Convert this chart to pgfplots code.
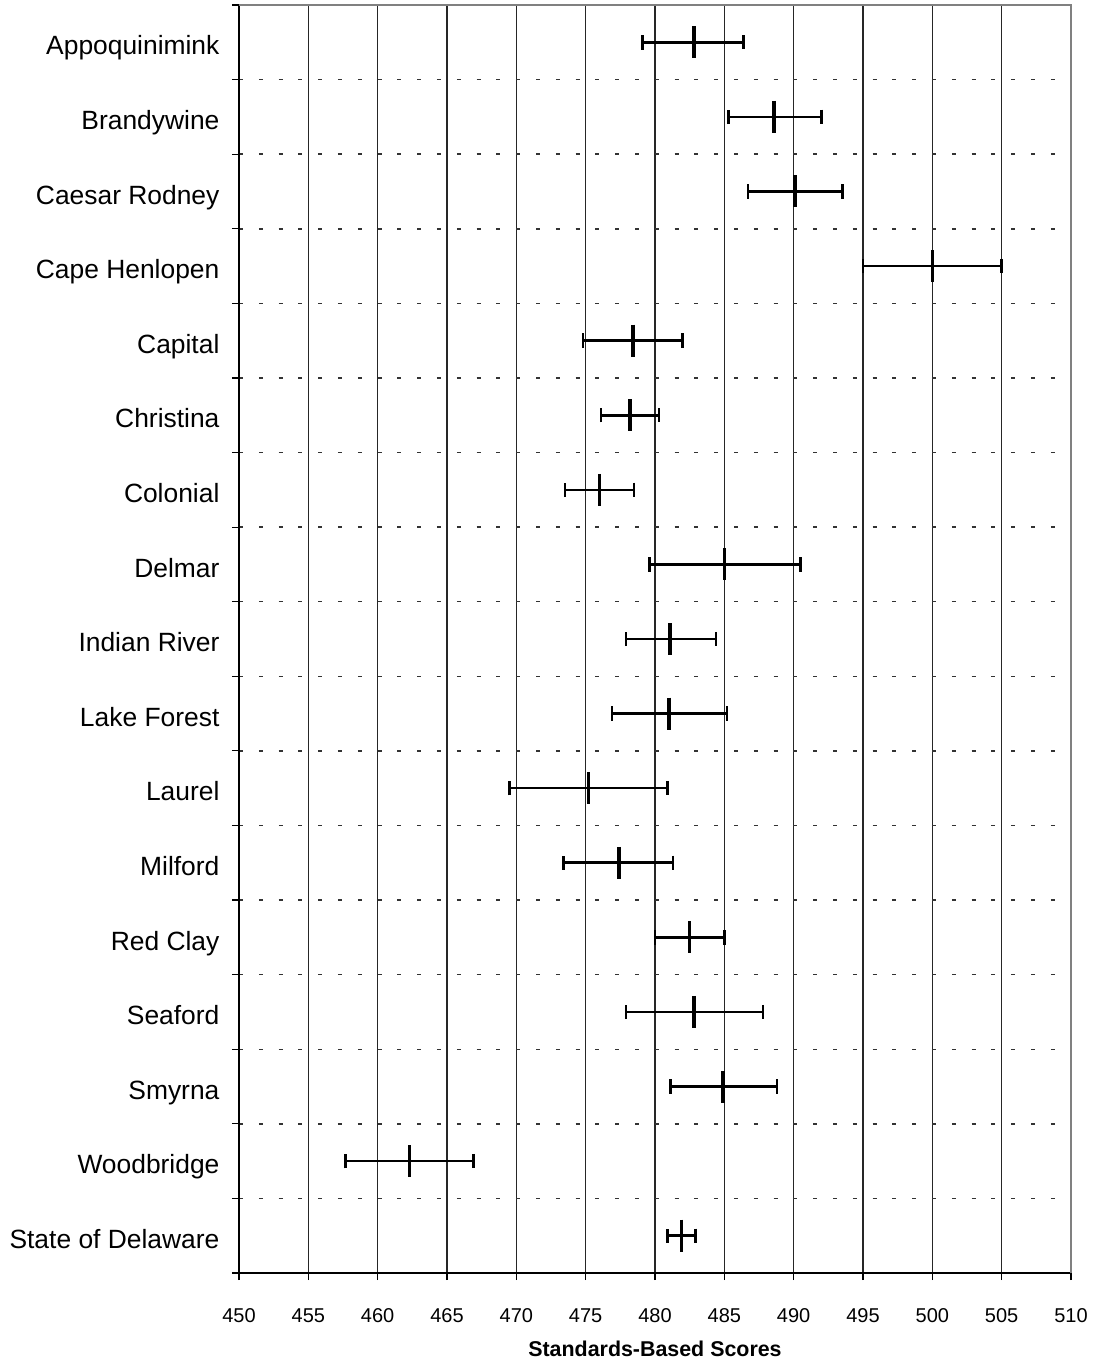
\documentclass[border=0pt]{standalone}
\usepackage{pgfplots}
\pgfplotsset{compat=1.18}
\usepackage{pgfplotstable}
\usepackage{fontspec}
\setmainfont{Liberation Sans}

\pgfplotstableread{
idx score minus plus
0  482.8 3.7 3.6
1  488.6 3.3 3.4
2  490.1 3.4 3.4
3  500.0 5.0 5.0
4  478.4 3.6 3.6
5  478.2 2.1 2.1
6  476.0 2.5 2.5
7  485.0 5.4 5.5
8  481.1 3.2 3.3
9  481.0 4.1 4.2
10 475.2 5.7 5.7
11 477.4 4.0 3.9
12 482.5 2.5 2.5
13 482.8 4.9 5.0
14 484.9 3.8 3.9
15 462.3 4.6 4.6
16 481.9 1.0 1.0
}\districts

\begin{document}
\begin{tikzpicture}
\begin{axis}[
  scale only axis,
  width=416pt, height=634pt,
  xmin=450, xmax=510,
  ymin=-0.5, ymax=16.5,
  y dir=reverse,
  clip=false,
  xtick={450,455,...,510},
  ytick={-0.5,0.5,...,16.5},
  y tick label as interval,
  yticklabels={Appoquinimink,Brandywine,Caesar Rodney,Cape Henlopen,Capital,Christina,Colonial,Delmar,Indian River,Lake Forest,Laurel,Milford,Red Clay,Seaford,Smyrna,Woodbridge,State of Delaware},
  xtick pos=bottom, ytick pos=left,
  tick align=outside,
  major tick length=3.6pt,
  tick style={black, line width=0.6pt},
  xmajorgrids, ymajorgrids,
  x grid style={black!85, line width=0.6pt},
  y grid style={black!80, line width=0.75pt, dash pattern=on 2pt off 7.9pt},
  axis line style={black, line width=0.6pt},
  /pgf/number format/assume math mode=true,
  xticklabel style={font=\fontsize{10}{12}\selectfont, anchor=base, yshift=-21pt},
  yticklabel style={font=\fontsize{13.2}{15}\selectfont, anchor=base east, inner sep=0pt, xshift=-6pt, yshift=-6.35pt},
  xlabel={\bfseries Standards-Based Scores},
  xlabel style={font=\fontsize{10.7}{13}\selectfont, at={(axis description cs:0.5,0)}, anchor=base, yshift=-41.5pt},
]
\addplot[
  only marks, black,
  mark=|, mark size=8pt, mark options={line width=1.8pt},
  error bars/.cd, x dir=both, x explicit,
  error bar style={line width=1.3pt, black},
  error mark options={mark size=3.6pt, line width=1.3pt, black, rotate=90},
] table[x=score, y=idx, x error plus=plus, x error minus=minus] {\districts};
\draw[black!50, line width=1.4pt] (axis cs:450,-0.5) -- (axis cs:510,-0.5) -- (axis cs:510,16.5);
\end{axis}
\pgfresetboundingbox
\path[use as bounding box] (-119.5pt,-46pt) rectangle (426.5pt,636.5pt);
\end{tikzpicture}
\end{document}
